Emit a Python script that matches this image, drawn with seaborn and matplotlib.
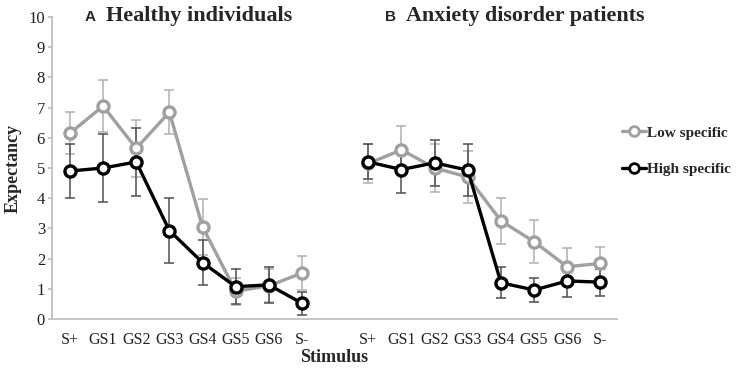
import matplotlib
matplotlib.use("Agg")
import matplotlib.pyplot as plt
import numpy as np
import pandas as pd
import seaborn as sns

STIMULI = ["S+", "GS1", "GS2", "GS3", "GS4", "GS5", "GS6", "S-"]
PANELS = ["Healthy individuals", "Anxiety disorder patients"]
SERIES = ["Low specific", "High specific"]

# panel A (healthy)
healthy_low = [6.15, 7.05, 5.65, 6.85, 3.05, 0.92, 1.10, 1.52]
healthy_low_err = [0.70, 0.85, 0.95, 0.73, 0.93, 0.45, 0.55, 0.55]
healthy_high = [4.90, 5.00, 5.20, 2.93, 1.87, 1.07, 1.13, 0.52]
healthy_high_err = [0.90, 1.12, 1.13, 1.08, 0.75, 0.58, 0.60, 0.38]

# panel B (anxiety)
anxiety_low = [5.15, 5.60, 5.00, 4.70, 3.25, 2.56, 1.73, 1.84]
anxiety_low_err = [0.65, 0.78, 0.80, 0.85, 0.77, 0.72, 0.63, 0.55]
anxiety_high = [5.20, 4.95, 5.17, 4.93, 1.20, 0.96, 1.26, 1.22]
anxiety_high_err = [0.58, 0.77, 0.76, 0.85, 0.51, 0.41, 0.52, 0.45]

COLORS = {"Low specific": "#a0a0a0", "High specific": "#000000"}
ERR_COLORS = {"Low specific": "#b0b0b0", "High specific": "#505050"}


def build_frame():
    rows = []
    blocks = [
        (PANELS[0], "Low specific", healthy_low, healthy_low_err),
        (PANELS[0], "High specific", healthy_high, healthy_high_err),
        (PANELS[1], "Low specific", anxiety_low, anxiety_low_err),
        (PANELS[1], "High specific", anxiety_high, anxiety_high_err),
    ]
    for panel, series, vals, errs in blocks:
        offset = 0 if panel == PANELS[0] else len(STIMULI) + 1
        for i, (v, e) in enumerate(zip(vals, errs)):
            rows.append({"panel": panel, "series": series, "stimulus": STIMULI[i],
                         "x": i + offset, "value": v, "err": e})
    return pd.DataFrame(rows)


def main():
    sns.set_theme(style="white")
    plt.rcParams["font.family"] = ["Liberation Serif", "DejaVu Serif"]
    df = build_frame()

    fig = plt.figure(figsize=(7.37, 3.71), dpi=100)
    ax = fig.add_axes([52 / 737, 1 - 319 / 371, (617 - 52) / 737, (319 - 17) / 371])

    sns.lineplot(data=df, x="x", y="value", hue="series", units="panel",
                 estimator=None, palette=COLORS, hue_order=SERIES,
                 marker="o", markersize=8, markerfacecolor="white",
                 markeredgewidth=2.4, linewidth=2.4, ax=ax, zorder=3,
                 legend=False)
    for line in ax.lines:
        line.set_markeredgecolor(line.get_color())
        line.set_markerfacecolor("white")

    # error bars behind the lines
    for series in SERIES:
        sub = df[df["series"] == series]
        ax.errorbar(sub["x"], sub["value"], yerr=sub["err"], fmt="none",
                    ecolor=ERR_COLORS[series], elinewidth=1.1, capsize=3.5,
                    capthick=1.1, zorder=2)

    ax.set_xlim(-0.54, 16.5)
    ax.set_ylim(0, 10)
    ax.set_yticks(range(0, 11))
    ticks = list(range(8)) + list(range(9, 17))
    ax.set_xticks(ticks)
    ax.set_xticklabels(STIMULI + STIMULI, fontsize=11.5)
    ax.tick_params(axis="y", labelsize=12, length=3, color="#bfbfbf", pad=2,
                   left=True, labelcolor="#222222")
    ax.tick_params(axis="x", length=0, pad=9, labelcolor="#222222")
    for side in ["top", "right"]:
        ax.spines[side].set_visible(False)
    for side in ["left", "bottom"]:
        ax.spines[side].set_color("#bfbfbf")
        ax.spines[side].set_linewidth(1.3)

    ax.set_xlabel("Stimulus", fontsize=13, fontweight="bold", labelpad=1)
    ax.set_ylabel("Expectancy", fontsize=13, fontweight="bold", labelpad=5)

    # panel titles
    fig.text(85 / 737, 1 - 17 / 371, "A", family=["Liberation Sans"],
             fontsize=11, fontweight="bold", va="center")
    fig.text(106 / 737, 1 - 16 / 371, PANELS[0], fontsize=16,
             fontweight="bold", va="center")
    fig.text(385 / 737, 1 - 17 / 371, "B", family=["Liberation Sans"],
             fontsize=11, fontweight="bold", va="center")
    fig.text(406 / 737, 1 - 16 / 371, PANELS[1], fontsize=15.8,
             fontweight="bold", va="center")

    handles = [plt.Line2D([], [], color=COLORS[s], marker="o", markersize=7,
                          markerfacecolor="white", markeredgewidth=2,
                          linewidth=2.4) for s in SERIES]
    fig.legend(handles, SERIES, loc="center left",
               bbox_to_anchor=(608 / 737, 1 - 151 / 371), frameon=False,
               handlelength=1.6, handletextpad=0.05, labelspacing=1.5,
               prop={"family": "Liberation Serif", "weight": "bold", "size": 11})

    fig.savefig("out.png", dpi=100)
    plt.close(fig)


if __name__ == "__main__":
    main()
